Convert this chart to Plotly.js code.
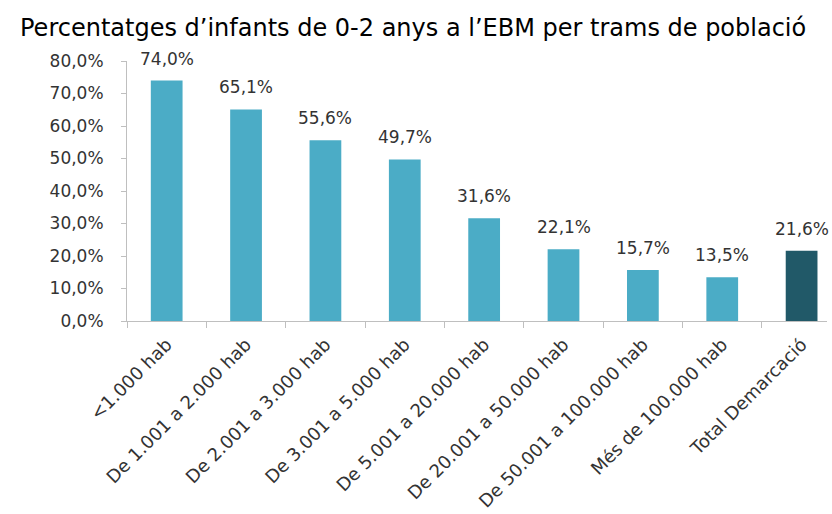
<!DOCTYPE html>
<html>
<head>
<meta charset="utf-8">
<script src="https://cdn.plot.ly/plotly-3.0.1.min.js"></script>
<style>html,body{margin:0;padding:0;background:#fff;}#chart{width:832px;height:514px;}</style>
</head>
<body>
<div id="chart"></div>
<script>
const categories = ["<1.000 hab", "De 1.001 a 2.000 hab", "De 2.001 a 3.000 hab", "De 3.001 a 5.000 hab",
  "De 5.001 a 20.000 hab", "De 20.001 a 50.000 hab", "De 50.001 a 100.000 hab", "Més de 100.000 hab", "Total Demarcació"];
const values = [74.0, 65.1, 55.6, 49.7, 31.6, 22.1, 15.7, 13.5, 21.6];
const barColors = ["#4BACC6", "#4BACC6", "#4BACC6", "#4BACC6", "#4BACC6", "#4BACC6", "#4BACC6", "#4BACC6", "#215968"];
const yTickVals = [0, 10, 20, 30, 40, 50, 60, 70, 80];

const fontFam = "DejaVu Sans, sans-serif";
const fmt = v => v.toFixed(1).replace('.', ',') + '%';

const trace = {
  type: 'bar',
  x: categories,
  y: values,
  width: 0.4,
  marker: {color: barColors},
  hoverinfo: 'none'
};

const annotations = categories.map((c, i) => ({
  x: c, y: values[i], xref: 'x', yref: 'y',
  text: fmt(values[i]), showarrow: false,
  yanchor: 'bottom', yshift: 10,
  font: {family: fontFam, size: 17, color: '#333333'}
}));

const layout = {
  width: 832, height: 514,
  margin: {l: 127, r: 5, t: 61, b: 193},
  paper_bgcolor: '#ffffff', plot_bgcolor: '#ffffff',
  showlegend: false,
  title: {
    text: 'Percentatges d’infants de 0-2 anys a l’EBM per trams de població',
    font: {family: fontFam, size: 24, color: '#000000'},
    x: 20/832, xanchor: 'left', xref: 'container',
    y: 1 - 28/514, yanchor: 'middle', yref: 'container'
  },
  xaxis: {
    type: 'category',
    range: [-0.5, 8.32],
    tickson: 'boundaries',
    ticks: 'outside', ticklen: 6, tickcolor: '#BFBFBF', tickwidth: 1,
    ticklabelstandoff: 5,
    showline: true, linecolor: '#BFBFBF', linewidth: 1,
    showgrid: false, zeroline: false,
    tickangle: -45,
    tickfont: {family: fontFam, size: 18, color: '#333333'}
  },
  yaxis: {
    range: [0, 80],
    tickvals: yTickVals,
    ticktext: yTickVals.map(fmt),
    ticks: 'outside', ticklen: 5, tickcolor: '#BFBFBF', tickwidth: 1,
    ticklabelstandoff: 14,
    showline: true, linecolor: '#BFBFBF', linewidth: 1,
    showgrid: false, zeroline: false,
    tickfont: {family: fontFam, size: 17, color: '#333333'}
  },
  annotations: annotations
};

Plotly.newPlot('chart', [trace], layout, {displayModeBar: false, staticPlot: true});
</script>
</body>
</html>
